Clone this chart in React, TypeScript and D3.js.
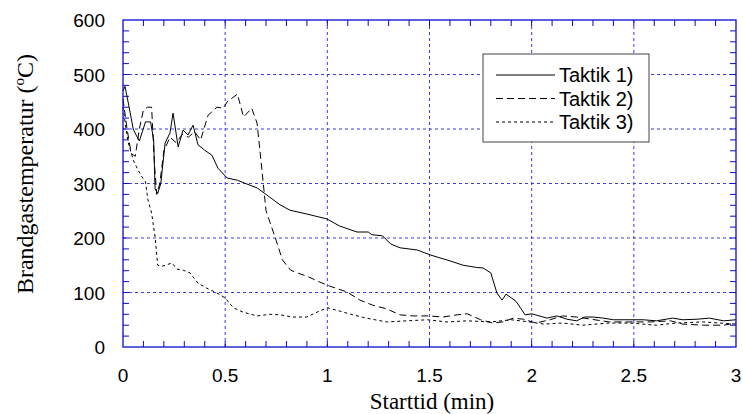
import { useEffect, useRef } from 'react';
import * as d3 from 'd3';

// Taktik 1) - heldragen linje
const t1Time = [0, 0.01, 0.03, 0.05, 0.064, 0.08, 0.11, 0.135, 0.15, 0.157, 0.17, 0.185, 0.206, 0.23, 0.245, 0.27, 0.294, 0.318, 0.343, 0.367, 0.4, 0.435, 0.465, 0.51, 0.56, 0.6, 0.656, 0.7, 0.768, 0.817, 0.9, 0.998, 1.06, 1.145, 1.2, 1.218, 1.27, 1.31, 1.356, 1.44, 1.503, 1.6, 1.665, 1.73, 1.762, 1.8, 1.83, 1.855, 1.875, 1.923, 1.968, 2.0, 2.075, 2.124, 2.173, 2.22, 2.26, 2.3, 2.35, 2.4, 2.48, 2.545, 2.61, 2.69, 2.74, 2.81, 2.87, 2.94, 3.0];
const t1Temp = [470, 478, 440, 400, 389, 378, 413, 413, 380, 290, 282, 300, 374, 393, 429, 367, 398, 389, 407, 371, 361, 352, 328, 310, 306, 300, 292, 280, 261, 251, 244, 235, 222, 211, 211, 206, 204, 189, 182, 178, 169, 158, 150, 146, 145, 136, 99, 86, 97, 84, 59, 61, 53, 57, 51, 48, 55, 55, 53, 50, 50, 50, 48, 53, 50, 51, 53, 48, 50];

// Taktik 2) - lång streckad
const t2Time = [0, 0.02, 0.04, 0.06, 0.08, 0.1, 0.12, 0.14, 0.155, 0.165, 0.18, 0.2, 0.23, 0.26, 0.29, 0.32, 0.35, 0.38, 0.416, 0.46, 0.49, 0.51, 0.56, 0.59, 0.63, 0.656, 0.67, 0.685, 0.7, 0.72, 0.75, 0.78, 0.82, 0.86, 0.9, 0.964, 1.01, 1.096, 1.16, 1.22, 1.29, 1.356, 1.42, 1.5, 1.566, 1.635, 1.684, 1.75, 1.81, 1.86, 1.91, 1.96, 2.02, 2.09, 2.15, 2.22, 2.29, 2.38, 2.48, 2.58, 2.68, 2.74, 2.84, 2.94, 3.0];
const t2Temp = [455, 400, 355, 350, 400, 435, 440, 440, 330, 280, 300, 360, 385, 375, 390, 385, 395, 380, 425, 440, 438, 450, 464, 422, 438, 411, 361, 306, 250, 228, 195, 160, 141, 135, 130, 119, 112, 101, 86, 77, 70, 59, 57, 57, 55, 59, 61, 50, 44, 46, 53, 51, 44, 50, 57, 55, 51, 46, 46, 46, 48, 42, 40, 40, 44];

// Taktik 3) - kort streckad
const t3Time = [0, 0.015, 0.025, 0.05, 0.073, 0.093, 0.11, 0.122, 0.14, 0.157, 0.17, 0.19, 0.206, 0.24, 0.264, 0.294, 0.328, 0.367, 0.41, 0.46, 0.5, 0.54, 0.587, 0.656, 0.72, 0.77, 0.83, 0.9, 0.95, 1.0, 1.06, 1.125, 1.19, 1.29, 1.39, 1.49, 1.585, 1.684, 1.8, 1.9, 1.99, 2.06, 2.15, 2.25, 2.38, 2.48, 2.61, 2.71, 2.84, 3.0];
const t3Temp = [440, 400, 376, 343, 325, 312, 303, 270, 246, 202, 150, 148, 150, 154, 143, 141, 136, 117, 108, 99, 90, 72, 64, 57, 60, 59, 55, 55, 64, 72, 66, 59, 53, 46, 48, 50, 46, 48, 46, 50, 46, 42, 44, 40, 44, 44, 40, 44, 46, 42];

const xTicks = [0, 0.5, 1, 1.5, 2, 2.5, 3];
const yTicks = [0, 100, 200, 300, 400, 500, 600];
const seriesNames = ['Taktik 1)', 'Taktik 2)', 'Taktik 3)'];

const App = () => {
    const svgRef = useRef<SVGSVGElement>(null);

    useEffect(() => {
        const W = 743, H = 414;
        const left = 123, right = 736, top = 20, bottom = 347;

        const svg = d3.select(svgRef.current);
        svg.selectAll('*').remove();
        svg.attr('width', W).attr('height', H);

        const x = d3.scaleLinear().domain([0, 3]).range([left, right]);
        const y = d3.scaleLinear().domain([0, 600]).range([bottom, top]);

        const frameColor = '#0a0ad0';
        const gridColor = '#3c3cf0';
        const sans = '"Liberation Sans", Arial, sans-serif';
        const serif = '"Liberation Serif", "Times New Roman", serif';

        // Rutnät
        svg.append('g')
            .selectAll('line')
            .data(xTicks.slice(1, -1))
            .enter().append('line')
            .attr('x1', d => x(d)).attr('x2', d => x(d))
            .attr('y1', top).attr('y2', bottom)
            .attr('stroke', gridColor)
            .attr('stroke-dasharray', '3,3');

        svg.append('g')
            .selectAll('line')
            .data(yTicks.slice(1, -1))
            .enter().append('line')
            .attr('x1', left).attr('x2', right)
            .attr('y1', d => y(d)).attr('y2', d => y(d))
            .attr('stroke', gridColor)
            .attr('stroke-dasharray', '3,3');

        // Små tickmarkeringar inåt på alla sidor
        const xMinor = d3.range(1, 30).map(i => i / 10);
        const yMinor = d3.range(1, 30).map(i => i * 20);
        const ticks = svg.append('g').attr('stroke', frameColor).attr('stroke-width', 1);
        xMinor.forEach(v => {
            ticks.append('line').attr('x1', x(v)).attr('x2', x(v)).attr('y1', bottom).attr('y2', bottom - 6);
            ticks.append('line').attr('x1', x(v)).attr('x2', x(v)).attr('y1', top).attr('y2', top + 6);
        });
        yMinor.forEach(v => {
            ticks.append('line').attr('x1', left).attr('x2', left + 6).attr('y1', y(v)).attr('y2', y(v));
            ticks.append('line').attr('x1', right).attr('x2', right - 6).attr('y1', y(v)).attr('y2', y(v));
        });

        // Kurvor
        const line = d3.line<[number, number]>()
            .x(d => x(d[0]))
            .y(d => y(d[1]));

        const series = [
            { time: t1Time, temp: t1Temp, dash: null },
            { time: t2Time, temp: t2Temp, dash: '7,4' },
            { time: t3Time, temp: t3Temp, dash: '3,3' },
        ];

        series.forEach(s => {
            const pts = s.time.map((t, i) => [t, s.temp[i]] as [number, number]);
            svg.append('path')
                .datum(pts)
                .attr('d', line)
                .attr('fill', 'none')
                .attr('stroke', '#000')
                .attr('stroke-width', 1)
                .attr('stroke-dasharray', s.dash);
        });

        // Ram
        svg.append('rect')
            .attr('x', left).attr('y', top)
            .attr('width', right - left).attr('height', bottom - top)
            .attr('fill', 'none')
            .attr('stroke', frameColor)
            .attr('stroke-width', 1.3);

        // Axeltexter
        svg.append('g')
            .selectAll('text')
            .data(xTicks)
            .enter().append('text')
            .attr('x', d => x(d))
            .attr('y', 382)
            .attr('text-anchor', 'middle')
            .style('font-family', sans)
            .style('font-size', '19px')
            .text(d => String(d));

        svg.append('g')
            .selectAll('text')
            .data(yTicks)
            .enter().append('text')
            .attr('x', 105)
            .attr('y', d => y(d) + 7)
            .attr('text-anchor', 'end')
            .style('font-family', sans)
            .style('font-size', '19px')
            .text(d => String(d));

        svg.append('text')
            .attr('x', 432)
            .attr('y', 409)
            .attr('text-anchor', 'middle')
            .style('font-family', serif)
            .style('font-size', '23px')
            .text('Starttid (min)');

        const yLabel = svg.append('text')
            .attr('transform', 'translate(33,174) rotate(-90)')
            .attr('text-anchor', 'middle')
            .style('font-family', serif)
            .style('font-size', '24px');
        yLabel.append('tspan').text('Brandgastemperatur (');
        yLabel.append('tspan').attr('dy', -9).style('font-size', '15px').text('o');
        yLabel.append('tspan').attr('dy', 9).text('C)');

        // Legend
        const lg = svg.append('g');
        lg.append('rect')
            .attr('x', 483).attr('y', 54)
            .attr('width', 166).attr('height', 88)
            .attr('fill', '#fff')
            .attr('stroke', '#444')
            .attr('stroke-width', 1);

        series.forEach((s, i) => {
            const ly = 75 + i * 23.5;
            lg.append('line')
                .attr('x1', 496).attr('x2', 555)
                .attr('y1', ly).attr('y2', ly)
                .attr('stroke', '#000')
                .attr('stroke-width', 1)
                .attr('stroke-dasharray', s.dash);
            lg.append('text')
                .attr('x', 559)
                .attr('y', ly + 7)
                .style('font-family', sans)
                .style('font-size', '20px')
                .text(seriesNames[i]);
        });
    }, []);

    return (
        <div style={{ position: 'absolute', left: 0, top: 0 }}>
            <svg ref={svgRef} style={{ display: 'block' }}></svg>
        </div>
    );
};

export default App;
